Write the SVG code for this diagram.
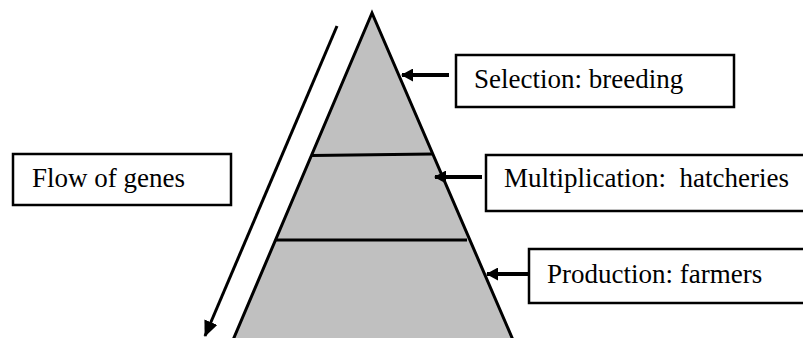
<svg xmlns="http://www.w3.org/2000/svg" width="803" height="338" viewBox="0 0 803 338">
<style>
.box{fill:#fff;stroke:#000;stroke-width:2.5}
.lbl{font-family:"Liberation Serif","Times New Roman","DejaVu Serif",serif;font-size:27px;fill:#000}
.conn{stroke:#000;stroke-width:4;fill:none}
</style>
<defs>
<marker id="ah" markerWidth="12" markerHeight="13" refX="11" refY="6.5" orient="auto" markerUnits="userSpaceOnUse" viewBox="0 0 12 13">
<path d="M0,0 L12,6.5 L0,13 z" fill="#000"/>
</marker>
<marker id="ah2" markerWidth="16" markerHeight="14" refX="15" refY="7" orient="auto" markerUnits="userSpaceOnUse" viewBox="0 0 16 14">
<path d="M0,0 L16,7 L0,14 z" fill="#000"/>
</marker>
</defs>
<g id="pyramid">
<polygon points="372,13 233,340 513,340" fill="#c0c0c0" stroke="#000" stroke-width="3"/>
<line x1="312" y1="155.5" x2="433" y2="154" stroke="#000" stroke-width="3"/>
<line x1="275" y1="240" x2="467" y2="240" stroke="#000" stroke-width="3"/>
</g>
<g id="connectors">
<line class="conn" x1="449" y1="75" x2="402" y2="75" marker-end="url(#ah)"/>
<line class="conn" x1="482" y1="177" x2="435" y2="177" marker-end="url(#ah)"/>
<line class="conn" x1="529" y1="274" x2="487" y2="274" marker-end="url(#ah)"/>
<line x1="337" y1="26" x2="205" y2="336" stroke="#000" stroke-width="3" marker-end="url(#ah2)"/>
</g>
<g id="selection">
<rect class="box" x="456" y="55" width="278" height="52"/>
<text class="lbl" x="474" y="88">Selection: breeding</text>
</g>
<g id="multiplication">
<rect class="box" x="486" y="155" width="330" height="56"/>
<text class="lbl" x="504" y="187" xml:space="preserve">Multiplication:  hatcheries</text>
</g>
<g id="production">
<rect class="box" x="529" y="249" width="290" height="54"/>
<text class="lbl" x="547" y="283">Production: farmers</text>
</g>
<g id="flow">
<rect class="box" x="13" y="154" width="218" height="51"/>
<text class="lbl" x="32" y="187">Flow of genes</text>
</g>
</svg>
